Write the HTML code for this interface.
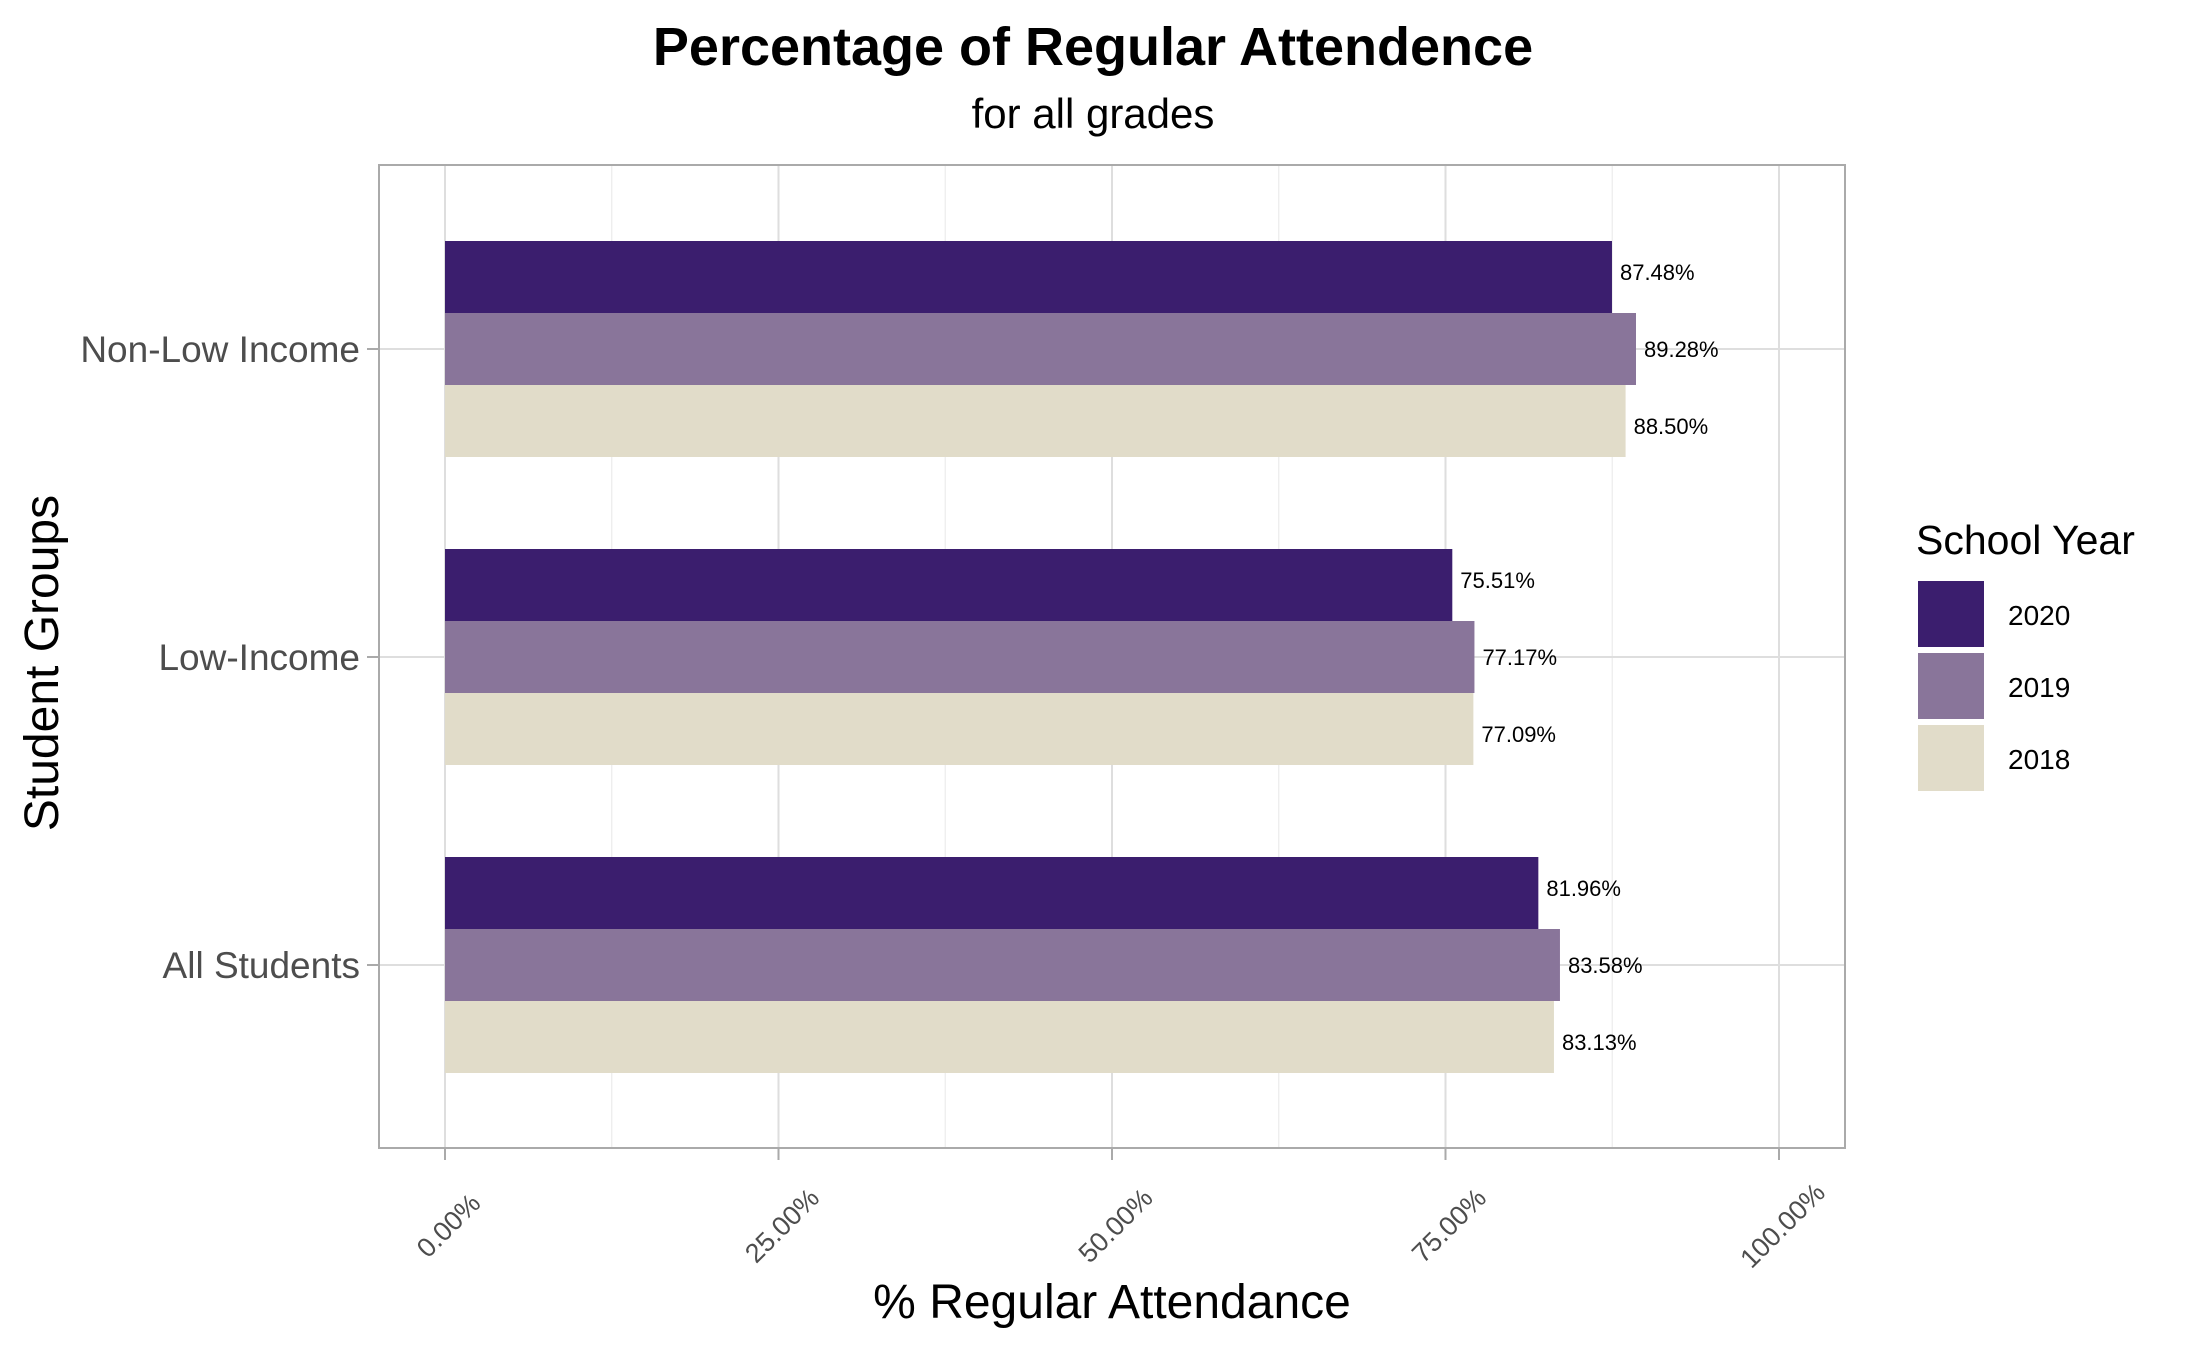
<!DOCTYPE html>
<html><head><meta charset="utf-8"><style>
body{margin:0;background:#fff;}
svg{display:block;font-family:"Liberation Sans",Arial,sans-serif;}
</style></head><body>
<svg id="chart" width="2187" height="1351" viewBox="0 0 2187 1351" xmlns="http://www.w3.org/2000/svg">
<text x="1093" y="65" text-anchor="middle" font-size="54" font-weight="bold" fill="#000">Percentage of Regular Attendence</text>
<text x="1093" y="128" text-anchor="middle" font-size="42" fill="#000">for all grades</text>
<g id="grid"></g>
<g id="bars"></g>
<g id="axes"></g>
<text x="0" y="0" transform="translate(58,663) rotate(-90)" text-anchor="middle" font-size="48" fill="#000">Student Groups</text>
<text x="1112" y="1318" text-anchor="middle" font-size="48" fill="#000">% Regular Attendance</text>
<g>
<text x="1916" y="554" font-size="41" fill="#000">School Year</text>
<g id="legend-items"></g>
</g>
</svg>
<script>
const categories = ["Non-Low Income", "Low-Income", "All Students"];
const years = ["2020", "2019", "2018"];
const colors = ["#3b1e6e", "#89759a", "#e1dcc9"];
const values2020 = [87.48, 75.51, 81.96];
const values2019 = [89.28, 77.17, 83.58];
const values2018 = [88.50, 77.09, 83.13];
const xTicks = [0, 25, 50, 75, 100];
const xTickLabels = ["0.00%", "25.00%", "50.00%", "75.00%", "100.00%"];

const NS = "http://www.w3.org/2000/svg";
const P = {l: 379, r: 1845, t: 165, b: 1148};
function xs(v){ return 445 + v * (1779 - 445) / 100; }
function yc(i){ return 349 + i * 308; }
const barH = 72;
function mk(tag, attrs, parent){
  const e = document.createElementNS(NS, tag);
  for (const k in attrs) e.setAttribute(k, attrs[k]);
  parent.appendChild(e); return e;
}
const grid = document.getElementById('grid');
const bars = document.getElementById('bars');
const axes = document.getElementById('axes');
for (let i = 0; i < xTicks.length; i++) {
  const x = xs(xTicks[i]);
  const gl = mk('line', {x1:x, x2:x, y1:P.t, y2:P.b, stroke:'#dedede', 'stroke-width':2}, grid);
  
  
  if (i < xTicks.length - 1) {
    const xm = xs((xTicks[i] + xTicks[i+1]) / 2);
    mk('line', {x1:xm, x2:xm, y1:P.t, y2:P.b, stroke:'#ececec', 'stroke-width':1.2}, grid);
  }
  mk('line', {x1:x, x2:x, y1:P.b, y2:P.b+12, stroke:'#aaa', 'stroke-width':2}, axes);
  const t = mk('text', {x:0, y:0, transform:'translate('+(x+10)+',1232) rotate(-45)', 'text-anchor':'middle', 'font-size':27, fill:'#4d4d4d'}, axes);
  t.textContent = xTickLabels[i];
  
  
}
const series = [values2020, values2019, values2018];
categories.forEach((c, i) => {
  const y = yc(i);
  mk('line', {x1:P.l, x2:P.r, y1:y, y2:y, stroke:'#dedede', 'stroke-width':2}, grid);
  mk('line', {x1:P.l-12, x2:P.l, y1:y, y2:y, stroke:'#aaa', 'stroke-width':2}, axes);
  const lab = mk('text', {x:360, y:y+13, 'text-anchor':'end', 'font-size':37, fill:'#4d4d4d'}, axes);
  lab.textContent = c;
  
  
  series.forEach((vals, s) => {
    const top = y - 1.5 * barH + s * barH;
    const r = mk('rect', {x:xs(0), y:top, width:xs(vals[i]) - xs(0), height:barH, fill:colors[s]}, bars);
    
    
    const vt = mk('text', {x:xs(vals[i]) + 8, y:y + 8 + (s - 1) * 77, 'font-size':22, fill:'#000'}, bars);
    vt.textContent = vals[i].toFixed(2) + '%';
    
    
  });
});
mk('rect', {x:P.l, y:P.t, width:P.r-P.l, height:P.b-P.t, fill:'none', stroke:'#aaa', 'stroke-width':2}, axes);
const li = document.getElementById('legend-items');
years.forEach((yr, s) => {
  const ty = 581 + s * 72;
  const k = mk('rect', {x:1918, y:ty, width:66, height:66, fill:colors[s]}, li);
  
  
  const t = mk('text', {x:2008, y:ty + 44, 'font-size':28, fill:'#000'}, li);
  t.textContent = yr;
  
  
});
</script>
</body></html>
